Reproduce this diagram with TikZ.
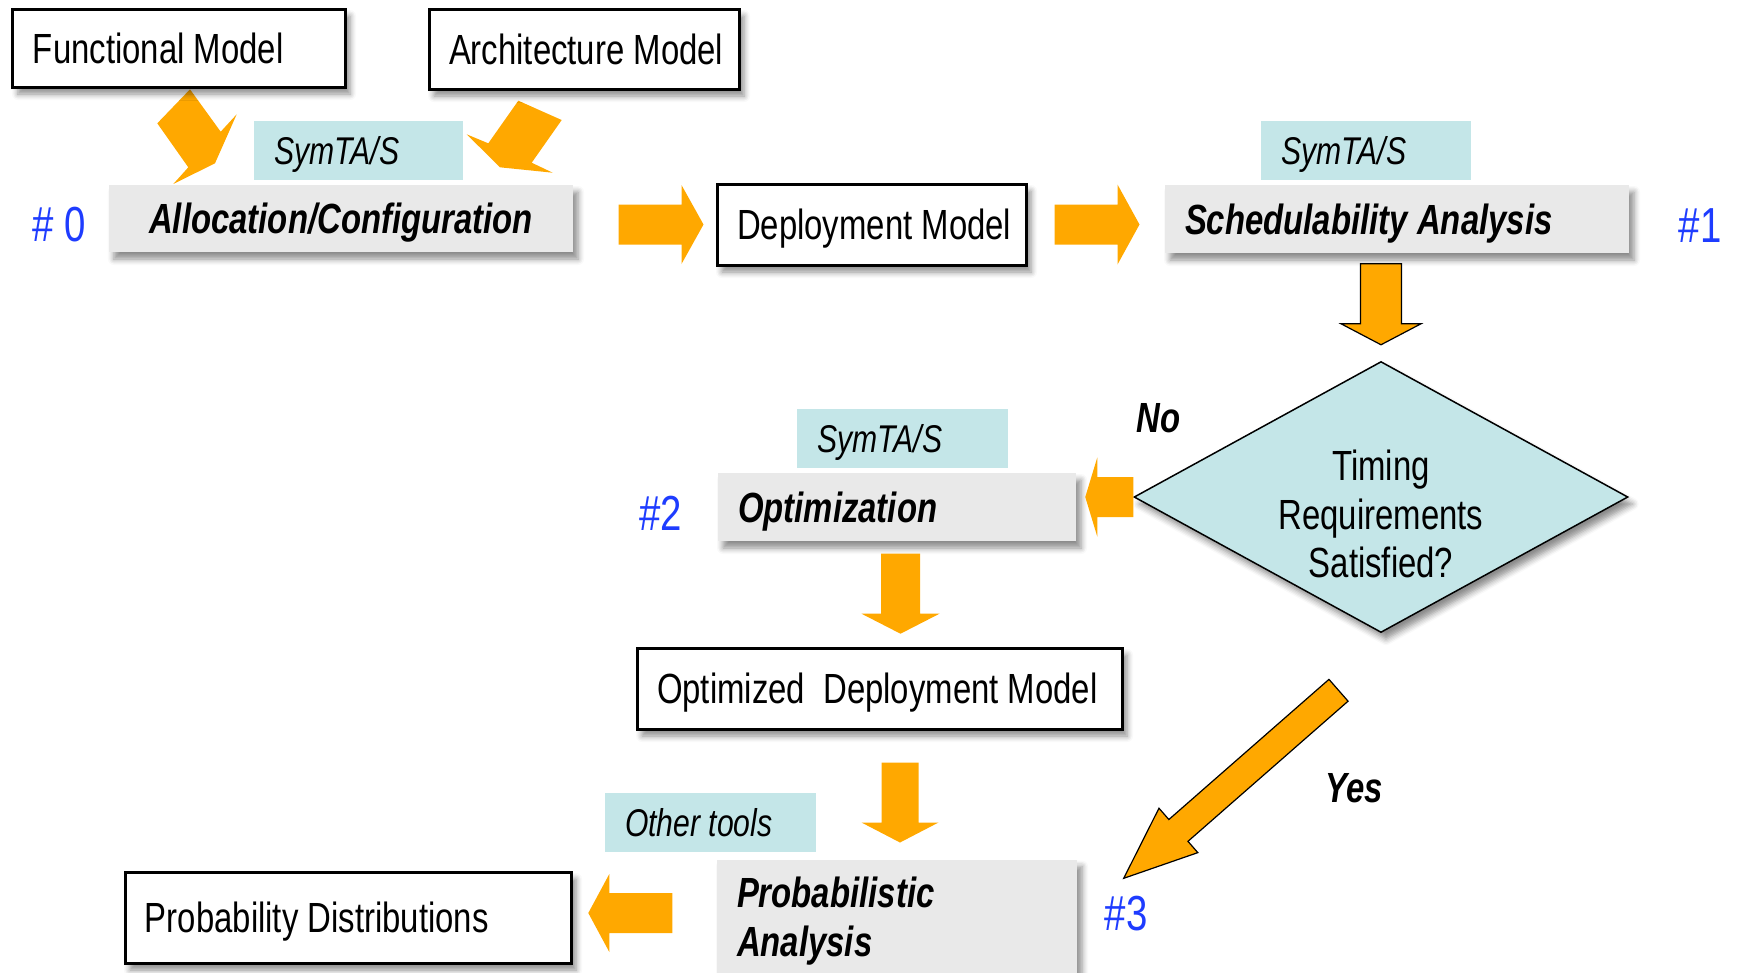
\documentclass[tikz,border=0pt]{standalone}
\usepackage{fontspec}
\setmainfont{Liberation Sans}[FakeStretch=0.78]
\usetikzlibrary{calc,shapes.geometric,shadows.blur}
\definecolor{arrorange}{RGB}{255,168,0}
\definecolor{tagcyan}{RGB}{196,230,232}
\definecolor{stepgray}{RGB}{233,233,233}
\definecolor{hashblue}{RGB}{30,60,255}
\newcommand\boxtext{\fontsize{12}{13.7}\selectfont}
\newcommand\tagtext{\fontsize{11}{13}\selectfont}
\newcommand\lefttext[2]{\makebox[#1][l]{#2}}
\newcommand\blockarrow[6][]{\fill[arrorange,#1] ($(#2)!#4!90:(#3)$) -- ($(#3)!#6!(#2)!#4!-90:(#2)$) -- ($(#3)!#6!(#2)!#5!-90:(#2)$) -- (#3) -- ($(#3)!#6!(#2)!#5!90:(#2)$) -- ($(#3)!#6!(#2)!#4!90:(#2)$) -- ($(#2)!#4!-90:(#3)$) -- cycle;}

\begin{document}
\begin{tikzpicture}[x=1mm,y=-1mm,
  softshadow/.style={blur shadow={shadow xshift=0.5mm,shadow yshift=-0.7mm,shadow blur radius=0.6mm,shadow blur steps=5,shadow opacity=45}},
  modelbox/.style={draw,line width=0.3mm,fill=white,inner xsep=2mm,inner ysep=0pt,text depth=0pt,font=\boxtext,softshadow},
  stepbox/.style={fill=stepgray,inner xsep=2mm,inner ysep=0pt,font=\boxtext\bfseries\itshape,softshadow},
  tagbox/.style={fill=tagcyan,inner xsep=2mm,inner ysep=0pt,text depth=0pt,minimum height=5.9mm,font=\tagtext\itshape},
  hashmark/.style={text=hashblue,font=\fontsize{14}{16}\selectfont},
  answer/.style={font=\fontsize{12}{14}\selectfont\bfseries\itshape}]
\useasboundingbox (0,0) rectangle (173.8,97.2);

\fill[arrorange] (19.0,8.93) -- (22.07,13.17) -- (23.67,11.43) -- (21.5,16.33) -- (17.33,18.4) -- (18.83,16.73) -- (15.73,12.33) -- cycle;
\fill[arrorange] (51.83,10.07) -- (56.17,12.0) -- (53.17,16.27) -- (55.27,17.27) -- (50.0,16.73) -- (46.67,13.43) -- (48.83,14.33) -- cycle;

 \node[modelbox,minimum height=7.8mm] (func) at (17.9,4.8) {\lefttext{29.2mm}{Functional Model}};
 \node[modelbox,minimum height=8mm] (arch) at (58.4,4.9) {\lefttext{27mm}{Architecture Model}};
 \node[modelbox,minimum height=8.1mm] (deploy) at (87.15,22.45) {\lefttext{26.9mm}{Deployment Model}};
 \node[modelbox,minimum height=8.1mm] (optdep) at (87.95,68.85) {\lefttext{44.5mm}{Optimized\ \ Deployment Model}};
 \node[modelbox,minimum height=9.1mm] (probdist) at (34.8,91.75) {\lefttext{40.6mm}{Probability Distributions}};

 \node[stepbox,text depth=0pt,minimum width=46.4mm,minimum height=6.7mm] (alloc) at (34.1,21.85) {Allocation/Configuration};
 \node[stepbox,text depth=0pt,minimum height=6.8mm] (sched) at (139.7,21.9) {\lefttext{42.4mm}{Schedulability Analysis}};
 \node[stepbox,text depth=0pt,minimum height=6.8mm] (optim) at (89.7,50.7) {\lefttext{31.8mm}{Optimization}};
 \node[stepbox,text width=32mm,align=left,minimum height=12.3mm] (prob) at (89.7,92.1) {Probabilistic\\Analysis};

 \node[tagbox] (sym1) at (35.85,15.05) {\lefttext{16.9mm}{SymTA/S}};
 \node[tagbox] (sym2) at (136.6,15.05) {\lefttext{17mm}{SymTA/S}};
 \node[tagbox] (sym3) at (90.25,43.85) {\lefttext{17.1mm}{SymTA/S}};
 \node[tagbox] (other) at (71.05,82.25) {\lefttext{17.1mm}{Other tools}};

 \node[diamond,draw,line width=0.15mm,fill=tagcyan,inner sep=0pt,minimum width=49.4mm,minimum height=27.1mm,softshadow] (timing) at (138.1,49.7) {};
 \node[align=center,font=\fontsize{12}{13.8}\selectfont] (timingtext) at (138.1,51.4) {Timing\\Requirements\\Satisfied?};

 \node[hashmark] (h0) at (5.9,22.5) {\# 0};
 \node[hashmark] (h1) at (170.0,22.6) {\#1};
 \node[hashmark] (h2) at (66.05,51.35) {\#2};
 \node[hashmark] (h3) at (112.6,91.35) {\#3};
 \node[answer] (no) at (115.85,41.85) {No};
 \node[answer] (yes) at (135.4,78.8) {Yes};

\coordinate (a1s) at ($(deploy.west)+(-9.7,0)$); \coordinate (a1e) at ($(deploy.west)+(-1.2,0)$);
\coordinate (a2s) at ($(deploy.east)+(2.7,0)$); \coordinate (a2e) at ($(deploy.east)+(11.2,0)$);
\coordinate (a3s) at ($(timing.north)+(0,-9.7)$); \coordinate (a3e) at ($(timing.north)+(0,-1.6)$);
\coordinate (a4s) at (timing.west); \coordinate (a4e) at ($(timing.west)+(-4.8,0)$);
\coordinate (a5s) at ($(optim.south)+(0.35,1.2)$); \coordinate (a5e) at ($(optim.south)+(0.35,9.2)$);
\coordinate (a6s) at ($(optdep.south)+(2.05,3.2)$); \coordinate (a6e) at ($(optdep.south)+(2.05,11.2)$);
\coordinate (a7s) at ($(prob.west)+(-4.4,-0.8)$); \coordinate (a7e) at ($(prob.west)+(-12.8,-0.8)$);
\coordinate (a8s) at ($(timing.south)+(-4.25,5.7)$); \coordinate (a8e) at ($(prob.north east)+(4.6,1.95)$);

\blockarrow{a1s}{a1e}{2mm}{3.95mm}{2.2mm}
\blockarrow{a2s}{a2e}{2mm}{4mm}{2.2mm}
\blockarrow[draw=black,line width=0.12mm]{a3s}{a3e}{2.05mm}{4mm}{2.1mm}
\blockarrow{a4s}{a4e}{2mm}{3.95mm}{1.2mm}
\blockarrow{a5s}{a5e}{1.95mm}{3.9mm}{2mm}
\blockarrow{a6s}{a6e}{1.85mm}{3.85mm}{2mm}
\blockarrow{a7s}{a7e}{2mm}{3.9mm}{2.1mm}
\blockarrow[draw=black,line width=0.12mm]{a8s}{a8e}{1.45mm}{2.95mm}{7.27mm}
\end{tikzpicture}
\end{document}
